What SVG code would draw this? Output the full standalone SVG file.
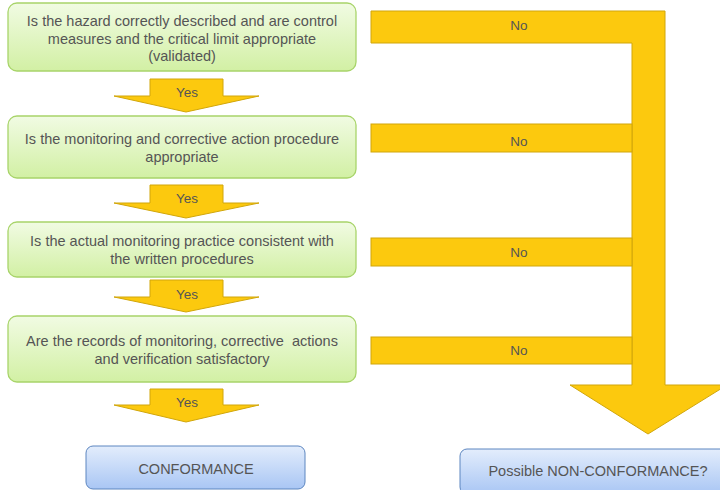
<svg xmlns="http://www.w3.org/2000/svg" width="720" height="490" viewBox="0 0 720 490">
<defs>
<linearGradient id="g" x1="0" y1="0" x2="0" y2="1">
<stop offset="0" stop-color="#f1fbe3"/>
<stop offset="1" stop-color="#d2f0a4"/>
</linearGradient>
<linearGradient id="b" x1="0" y1="0" x2="0" y2="1">
<stop offset="0" stop-color="#e3edfc"/>
<stop offset="1" stop-color="#a9c6f4"/>
</linearGradient>
<style>
.q{fill:url(#g);stroke:#a8d46a;stroke-width:1.3}
.r{fill:url(#b);stroke:#5d86c0;stroke-width:1}
.a{fill:#fcc90e;stroke:#d1a60a;stroke-width:1}
text{font-family:"Liberation Sans",Arial,sans-serif;font-size:14.5px;fill:#555;text-anchor:middle;white-space:pre}
.l{font-size:13.5px}
</style>
</defs>
<g id="connectors">
<path class="a" d="M371,11 H665 V385 H727 L648,434 L570,385 H632 V43 H371 Z"/>
<rect class="a" x="371" y="124" width="261" height="28"/>
<rect class="a" x="371" y="238" width="261" height="28"/>
<rect class="a" x="371" y="337" width="261" height="27"/>
<text class="l" x="519" y="30">No</text>
<text class="l" x="519" y="146">No</text>
<text class="l" x="519" y="257">No</text>
<text class="l" x="519" y="355">No</text>
<path class="a" d="M150,79 H223 V96 H259 L186,112 L114,96 H150 Z"/>
<path class="a" d="M150,185 H223 V203 H259 L186,218 L114,203 H150 Z"/>
<path class="a" d="M150,280 H223 V297 H259 L186,312 L114,297 H150 Z"/>
<path class="a" d="M150,389 H223 V405 H259 L186,422 L114,405 H150 Z"/>
<text class="l" x="187" y="97">Yes</text>
<text class="l" x="187" y="203">Yes</text>
<text class="l" x="187" y="299">Yes</text>
<text class="l" x="187" y="407">Yes</text>
</g>
<g id="q1">
<rect class="q" x="8" y="3" width="348" height="68" rx="9"/>
<text x="182" y="26">Is the hazard correctly described and are control</text>
<text x="182" y="43.5">measures and the critical limit appropriate</text>
<text x="182" y="61">(validated)</text>
</g>
<g id="q2">
<rect class="q" x="8" y="116" width="348" height="62" rx="9"/>
<text x="182" y="144">Is the monitoring and corrective action procedure</text>
<text x="182" y="162">appropriate</text>
</g>
<g id="q3">
<rect class="q" x="8" y="222" width="348" height="55" rx="9"/>
<text x="182" y="246">Is the actual monitoring practice consistent with</text>
<text x="182" y="264">the written procedures</text>
</g>
<g id="q4">
<rect class="q" x="8" y="316" width="348" height="66" rx="9"/>
<text x="182" y="346">Are the records of monitoring, corrective  actions</text>
<text x="182" y="364">and verification satisfactory</text>
</g>
<g id="conformance">
<rect class="r" x="86" y="446" width="219" height="43" rx="7"/>
<text x="196" y="474">CONFORMANCE</text>
</g>
<g id="nonconformance">
<rect class="r" x="460" y="449" width="275" height="45" rx="7"/>
<text x="598" y="476">Possible NON-CONFORMANCE?</text>
</g>
</svg>
